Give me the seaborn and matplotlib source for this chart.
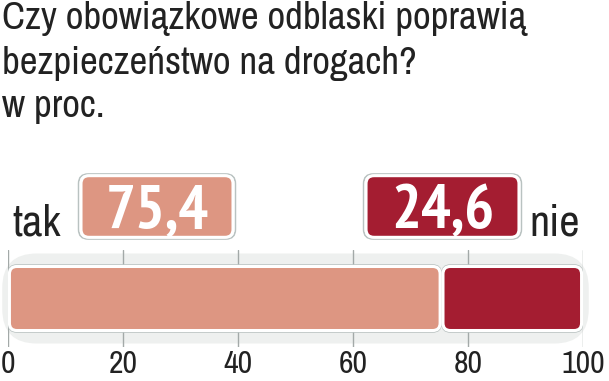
import numpy as np
import pandas as pd
import matplotlib
matplotlib.use("Agg")
import matplotlib.pyplot as plt
from matplotlib import font_manager
from matplotlib.patches import FancyBboxPatch
import seaborn as sns

# data
answers = ["tak", "nie"]
shares = [75.4, 24.6]
bar_colors = ["#DD9682", "#A41D31"]
ticks = [0, 20, 40, 60, 80, 100]
title_lines = ["Czy obowiązkowe odblaski poprawią", "bezpieczeństwo na drogach?", "w proc."]

sns.set_theme(style="white")
plt.rcParams["font.family"] = ["Roboto", "DejaVu Sans"]

# look for a narrow face, fall back to Roboto
cond = [f for f in font_manager.fontManager.ttflist
        if "condensed" in f.fname.lower() or "narrow" in f.fname.lower()]
cond.sort(key=lambda f: 0 if "narrow" in f.fname.lower() else 1)
cond_reg = [f for f in cond if f.weight in (400, "normal", "regular") and f.style == "normal"]
cond_bold = [f for f in cond if f.weight in (700, "bold") and f.style == "normal"]
if cond_reg and cond_bold:
    fp_text = font_manager.FontProperties(fname=cond_reg[0].fname)
    fp_bold = font_manager.FontProperties(fname=cond_bold[0].fname)
    title_size, num_size, tick_size, lab_size = 28, 45, 23, 32
else:
    fp_text = font_manager.FontProperties(family="Roboto", weight="light")
    fp_bold = font_manager.FontProperties(family="Roboto", weight="bold")
    title_size, num_size, tick_size, lab_size = 23.5, 38, 20, 26

fig = plt.figure(figsize=(6.09, 3.81), dpi=100, facecolor="white")
ax = fig.add_axes([8 / 609, 1 - 347 / 381, 575 / 609, 97 / 381])

# stacked bar: draw cumulative totals, longest first
cum = np.cumsum(shares)
df = pd.DataFrame({"odp": answers, "cum": cum, "share": shares})
for i in reversed(range(len(df))):
    sns.barplot(x=[df["cum"][i]], y=["q"], color=bar_colors[i], width=0.8,
                orient="h", ax=ax, saturation=1)

ax.set_xlim(0, 100)
ax.set_ylim(0.606, -0.606)

# swap plain rectangles for rounded ones
aspect = (1.2125 / 97) / (100 / 575)
patches = list(ax.patches)
for p, i in zip(patches, reversed(range(len(df)))):
    y0, h = p.get_y(), p.get_height()
    p.remove()
    left = df["cum"][i] - df["share"][i]
    ax.add_patch(FancyBboxPatch((left + 0.25, y0), df["share"][i] - 0.5, h,
                                boxstyle="round,pad=0,rounding_size=1.3",
                                mutation_aspect=aspect, facecolor=bar_colors[i],
                                edgecolor="white", lw=2.2, zorder=3))
    ax.add_patch(FancyBboxPatch((left + 0.05, y0 - 0.02), df["share"][i] - 0.1, h + 0.04,
                                boxstyle="round,pad=0,rounding_size=1.5",
                                mutation_aspect=aspect, facecolor="none",
                                edgecolor="#B9C2C1", lw=1.0, zorder=2.5))

# light band behind the bar
ax.add_patch(FancyBboxPatch((-1.0, -0.5625), 102.0, 1.125,
                            boxstyle="round,pad=0,rounding_size=6",
                            mutation_aspect=aspect, facecolor="#EEF0EF",
                            edgecolor="none", zorder=0.2, clip_on=False))

ax.set_xticks(ticks)
ax.set_xticklabels([str(t) for t in ticks], color="#222222")
for lab in ax.get_xticklabels():
    lab.set_fontproperties(fp_text)
    lab.set_fontsize(tick_size)
ax.set_yticks([])
ax.set_ylabel("")
ax.set_xlabel("")
ax.tick_params(axis="x", length=0, pad=2)
ax.grid(axis="x", color="#A3A9A8", lw=1.0, zorder=1)
ax.grid(axis="y", visible=False)
sns.despine(ax=ax, left=True, bottom=True)
ax.set_facecolor("none")

# title
for line, yb in zip(title_lines, [0.924, 0.806, 0.693]):
    fig.text(0.003, yb, line, fontproperties=fp_text, fontsize=title_size,
             color="#222222", va="baseline", ha="left")

# value boxes
box_x = [(77, 237), (362, 523)]
for (x0, x1), v, c in zip(box_x, shares, bar_colors):
    bx = fig.add_axes([x0 / 609, 1 - 240 / 381, (x1 - x0) / 609, 67 / 381])
    bx.set_axis_off()
    bx.set_xlim(0, 1)
    bx.set_ylim(0, 1)
    bx.add_patch(FancyBboxPatch((0.01, 0.015), 0.98, 0.97,
                                boxstyle="round,pad=0,rounding_size=0.06",
                                mutation_aspect=(x1 - x0) / 67,
                                facecolor="none", edgecolor="#B9C2C1", lw=1.2,
                                clip_on=False))
    bx.add_patch(FancyBboxPatch((0.025, 0.04), 0.95, 0.92,
                                boxstyle="round,pad=0,rounding_size=0.05",
                                mutation_aspect=(x1 - x0) / 67,
                                facecolor=c, edgecolor="white", lw=2.2,
                                clip_on=False))
    bx.text(0.5, 0.17, f"{v:.1f}".replace(".", ","), ha="center", va="baseline",
            fontproperties=fp_bold, fontsize=num_size, color="white")

fig.text(12 / 609, 0.383, answers[0], fontproperties=fp_text, fontsize=lab_size,
         color="#222222", ha="left", va="baseline")
fig.text(580 / 609, 0.383, answers[1], fontproperties=fp_text, fontsize=lab_size,
         color="#222222", ha="right", va="baseline")

fig.savefig("out.png", dpi=100, facecolor="white")
